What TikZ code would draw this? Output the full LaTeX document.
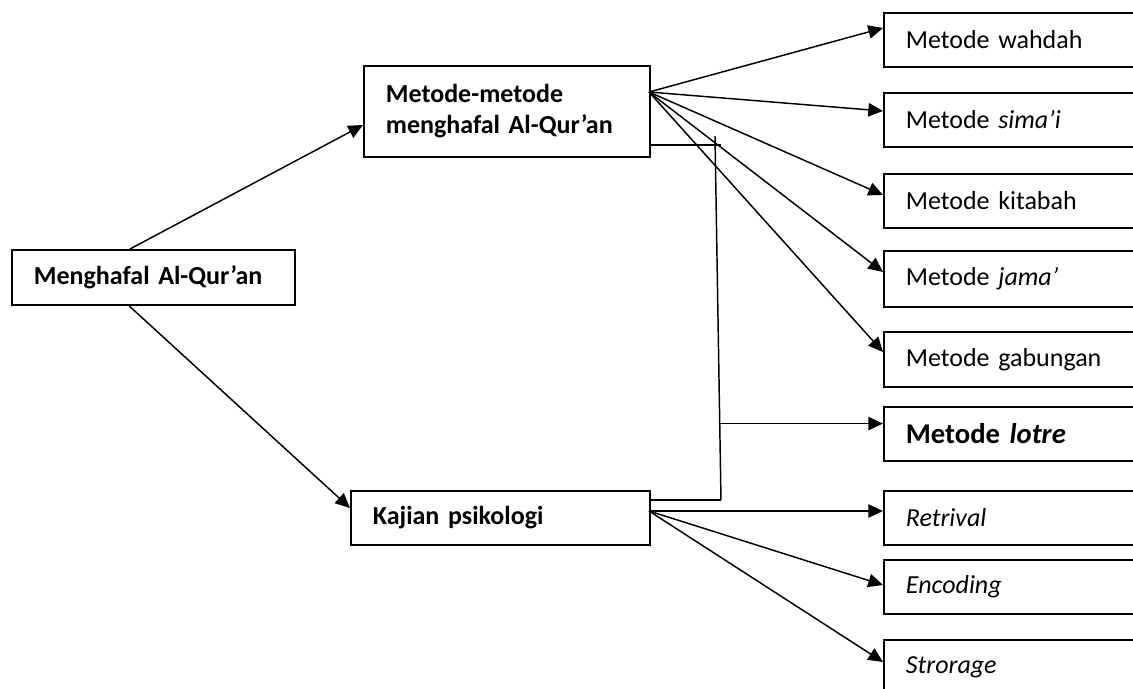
\documentclass[tikz,border=0pt]{standalone}
\usepackage{fontspec}
\setmainfont{Carlito}
\usetikzlibrary{arrows.meta,calc}
\newlength\pxu
\setlength\pxu{0.75pt}
\tikzset{
  mainbox/.style={draw, line width=1.3pt, anchor=north west, align=left,
                  inner xsep=22\pxu, inner ysep=0pt,
                  font=\fontsize{19.5pt}{23.5pt}\selectfont\bfseries},
  leafbox/.style={draw, line width=1.3pt, anchor=north west, align=left,
                  inner xsep=22\pxu, inner ysep=0pt, text width=216\pxu,
                  minimum height=54\pxu, font=\fontsize{19.5pt}{23.5pt}\selectfont},
  arr/.style={-{Triangle[length=11pt,width=10pt]}, line width=1.1pt},
  link/.style={line width=1.1pt}}

\begin{document}
\begin{tikzpicture}[x=\pxu, y=-\pxu]
  \useasboundingbox (0,0) rectangle (1133,689);
  \clip (0,0) rectangle (1133,689);

  \node[mainbox, text width=239\pxu, minimum height=55\pxu] (hafal) at (11,249) {Menghafal Al-Qur’an};
  \node[mainbox, text width=242\pxu, minimum height=91\pxu] (mm) at (363,65) {Metode-metode\\menghafal Al-Qur’an};
  \node[mainbox, text width=255\pxu, minimum height=54\pxu] (kaj) at (350,490) {Kajian psikologi};

  \node[leafbox] (wahdah) at (883,12) {Metode wahdah};
  \node[leafbox] (simai) at (883,92) {Metode \textit{sima’i}};
  \node[leafbox] (kitabah) at (883,173) {Metode kitabah};
  \node[leafbox, minimum height=56\pxu] (jama) at (883,250) {Metode \textit{jama’}};
  \node[leafbox, minimum height=55\pxu] (gabung) at (883,331) {Metode gabungan};
  \node[leafbox, font=\fontsize{21.5pt}{25pt}\selectfont\bfseries] (lotre) at (883,406) {Metode \textit{lotre}};
  \node[leafbox] (retri) at (883,490) {\textit{Retrival}};
  \node[leafbox] (enc) at (883,559) {\textit{Encoding}};
  \node[leafbox] (stor) at (883,639) {\textit{Strorage}};

  \draw[arr] (hafal.north -| 130,0) -- (mm.west |- 0,125);
  \draw[arr] (hafal.south -| 129,0) -- (kaj.west |- 0,508);

  \coordinate (mmfan) at (649,92);
  \foreach \n/\y in {wahdah/28, simai/111, kitabah/195, jama/272, gabung/352}
    \draw[arr] (mmfan) -- (\n.west |- 0,\y);

  \coordinate (jtop) at (715,136);
  \coordinate (jbot) at (721,500);
  \coordinate (jmid) at ($(jtop)!0.79!(jbot)$);
  \draw[link] (mm.east |- 0,145) -- (721,145);
  \draw[link] (jtop) -- (jbot);
  \draw[link] (kaj.east |- jbot) -- (jbot);
  \draw[arr] (jmid) -- (lotre.west |- jmid);

  \coordinate (kajfan) at (649,511);
  \foreach \n/\y in {retri/511, enc/585, stor/662}
    \draw[arr] (kajfan) -- (\n.west |- 0,\y);
\end{tikzpicture}
\end{document}
